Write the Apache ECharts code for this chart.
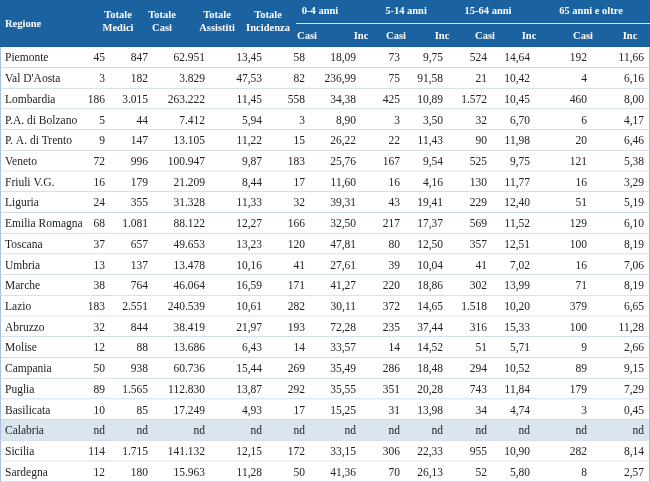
<!DOCTYPE html>
<html><head><meta charset="utf-8">
<script src="https://cdn.jsdelivr.net/npm/echarts@6/dist/echarts.min.js"></script>
<style>html,body{margin:0;padding:0;background:#fff}#main{width:650px;height:482px}</style>
</head><body><div id="main"></div>
<script>
var regioni = ['Piemonte',"Val D'Aosta",'Lombardia','P.A. di Bolzano','P. A. di Trento','Veneto','Friuli V.G.','Liguria','Emilia Romagna','Toscana','Umbria','Marche','Lazio','Abruzzo','Molise','Campania','Puglia','Basilicata','Calabria','Sicilia','Sardegna'];
var totMedici = ['45','3','186','5','9','72','16','24','68','37','13','38','183','32','12','50','89','10','nd','114','12'];
var totCasi = ['847','182','3.015','44','147','996','179','355','1.081','657','137','764','2.551','844','88','938','1.565','85','nd','1.715','180'];
var totAssistiti = ['62.951','3.829','263.222','7.412','13.105','100.947','21.209','31.328','88.122','49.653','13.478','46.064','240.539','38.419','13.686','60.736','112.830','17.249','nd','141.132','15.963'];
var totIncidenza = ['13,45','47,53','11,45','5,94','11,22','9,87','8,44','11,33','12,27','13,23','10,16','16,59','10,61','21,97','6,43','15,44','13,87','4,93','nd','12,15','11,28'];
var casi0_4 = ['58','82','558','3','15','183','17','32','166','120','41','171','282','193','14','269','292','17','nd','172','50'];
var inc0_4 = ['18,09','236,99','34,38','8,90','26,22','25,76','11,60','39,31','32,50','47,81','27,61','41,27','30,11','72,28','33,57','35,49','35,55','15,25','nd','33,15','41,36'];
var casi5_14 = ['73','75','425','3','22','167','16','43','217','80','39','220','372','235','14','286','351','31','nd','306','70'];
var inc5_14 = ['9,75','91,58','10,89','3,50','11,43','9,54','4,16','19,41','17,37','12,50','10,04','18,86','14,65','37,44','14,52','18,48','20,28','13,98','nd','22,33','26,13'];
var casi15_64 = ['524','21','1.572','32','90','525','130','229','569','357','41','302','1.518','316','51','294','743','34','nd','955','52'];
var inc15_64 = ['14,64','10,42','10,45','6,70','11,98','9,75','11,77','12,40','11,52','12,51','7,02','13,99','10,20','15,33','5,71','10,52','11,84','4,74','nd','10,90','5,80'];
var casi65 = ['192','4','460','6','20','121','16','51','129','100','16','71','379','100','9','89','179','3','nd','282','8'];
var inc65 = ['11,66','6,16','8,00','4,17','6,46','5,38','3,29','5,19','6,10','8,19','7,06','8,19','6,65','11,28','2,66','9,15','7,29','0,45','nd','8,14','2,57'];
var colonne = [regioni, totMedici, totCasi, totAssistiti, totIncidenza, casi0_4, inc0_4, casi5_14, inc5_14, casi15_64, inc15_64, casi65, inc65];
var intestazioni = [['Regione'], ['Totale', 'Medici'], ['Totale', 'Casi'], ['Totale', 'Assistiti'], ['Totale', 'Incidenza']];
var gruppi = ['0-4 anni', '5-14 anni', '15-64 anni', '65 anni e oltre'];

// layout: column edges, text anchors, header anchors
var colLeft = [0, 92, 110, 150, 208, 264, 310, 358, 405, 446, 490, 534, 592];
var colRight = [92, 110, 150, 208, 264, 310, 358, 405, 446, 490, 534, 592, 650];
var colText = [5, 105, 148, 205, 262, 305, 356, 400, 443, 487, 530, 587, 644];
var headX = [5, 118, 162, 217, 268];
var groupX = [320, 406, 488, 591];
var subX = [307, 361, 396, 442, 485, 529, 583, 630];
var headTop = 47;
var font = '"Liberation Serif", "DejaVu Serif", serif';
var blue = '#1b62a0';

var data = [];
colonne.forEach(function (col, c) {
  col.forEach(function (v, r) { data.push([c, r, v]); });
});

var hf = 'bold 10.5px ' + font;
var graphic = [{ type: 'rect', shape: { x: 0, y: 0, width: 650, height: headTop }, style: { fill: blue } },
  { type: 'line', shape: { x1: 296, y1: 23.5, x2: 650, y2: 23.5 }, style: { stroke: '#d6e2ee', lineWidth: 1 } }];
intestazioni.forEach(function (h, i) {
  graphic.push({ type: 'text', x: headX[i], y: h.length === 1 ? 24 : 22,
    style: { text: h.join('\n'), fill: '#fff', font: hf, align: i === 0 ? 'left' : 'center', verticalAlign: 'middle', lineHeight: 13 } });
});
gruppi.forEach(function (g, i) {
  graphic.push({ type: 'text', x: groupX[i], y: 11, style: { text: g, fill: '#fff', font: hf, align: 'center', verticalAlign: 'middle' } });
});
subX.forEach(function (x, k) {
  graphic.push({ type: 'text', x: x, y: 36, style: { text: k % 2 ? 'Inc' : 'Casi', fill: '#fff', font: hf, align: 'center', verticalAlign: 'middle' } });
});

echarts.init(document.getElementById('main')).setOption({
  animation: false,
  grid: { left: 0, right: 0, top: headTop, bottom: 0 },
  xAxis: { type: 'value', min: 0, max: 650, show: false },
  yAxis: { type: 'category', data: regioni, inverse: true, show: false },
  graphic: graphic,
  series: [{
    type: 'custom',
    data: data,
    renderItem: function (params, api) {
      var c = api.value(0), r = api.value(1);
      var p0 = api.coord([colLeft[c], r]);
      var p1 = api.coord([colRight[c], r]);
      var pt = api.coord([colText[c], r]);
      var h = api.size([0, 1])[1];
      var top = p0[1] - h / 2;
      var children = [
        { type: 'rect', shape: { x: p0[0], y: top, width: p1[0] - p0[0], height: h },
          style: { fill: regioni[r] === 'Calabria' ? '#dbe5f0' : '#fff' } },
        { type: 'line', shape: { x1: p0[0], y1: top + h, x2: p1[0], y2: top + h }, style: { stroke: '#a9c0d8', lineWidth: 1 } },
        { type: 'text', x: pt[0], y: p0[1] + 1, style: { text: String(api.value(2)), fill: '#222', font: '11.5px ' + font,
          align: c === 0 ? 'left' : 'right', verticalAlign: 'middle' } }
      ];
      if (c === 0) children.push({ type: 'line', shape: { x1: 0.5, y1: top, x2: 0.5, y2: top + h }, style: { stroke: '#a9c0d8' } });
      if (c === 12) children.push({ type: 'line', shape: { x1: 649.5, y1: top, x2: 649.5, y2: top + h }, style: { stroke: '#a9c0d8' } });
      return { type: 'group', children: children };
    }
  }]
});
</script>
</body></html>
